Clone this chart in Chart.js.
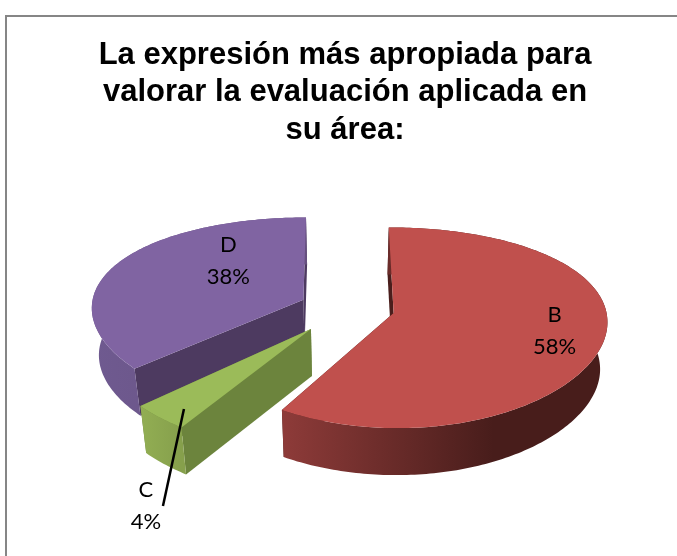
<!DOCTYPE html>
<html><head><meta charset="utf-8">
<style>html,body{margin:0;padding:0;background:#fff}canvas{display:block}</style>
<script src="https://cdn.jsdelivr.net/npm/chart.js@4/dist/chart.umd.min.js"></script>
</head><body><canvas id="c" width="677" height="556"></canvas>
<script>
const categories = ['B', 'C', 'D'];
const shares = [58, 4, 38];
const titleLines = ['La expresión más apropiada para', 'valorar la evaluación aplicada en', 'su área:'];

const topColors = ['#C0504D', '#9BBB59', '#8064A2'];
const cutColors = ['#4A1E1C', '#6C843D', '#4D3A60'];
const rimLeft = ['#8E3B39', '#92AE53', '#6F5A90'];
const rimRight = ['#481D1B', '#86A04C', '#66507F'];
const explode = [50, 57, 45];
const twistDeg = [[-0.5, 1.5], [4.5, 4.5], [5.5, 0]];
const labelDelta = [[161, 18], [-165, 177], [-75, -39]];
const leaderDelta = [[-127, 80], [-148, 177]];

const VIEW = { squash: 0.455, distance: 1450, depth: 47, lowerScale: 0.972, widen: 0.5 };
const DEG = Math.PI / 180;

function project(el, theta, r, lower) {
  const off = el.options.offset || 0;
  const mid = (el.startAngle + el.endAngle) / 2;
  const u = off * Math.cos(mid) + r * Math.cos(theta);
  const v = off * Math.sin(mid) + r * Math.sin(theta);
  const s = VIEW.distance / (VIEW.distance - v);
  let X = u * (1 + (s - 1) * VIEW.widen), Y = v * VIEW.squash * s;
  if (lower) { X *= VIEW.lowerScale; Y += VIEW.depth; }
  return [el.x + X, el.y + Y];
}
function poly(ctx, pts, fill) {
  ctx.beginPath();
  pts.forEach((p, i) => i ? ctx.lineTo(p[0], p[1]) : ctx.moveTo(p[0], p[1]));
  ctx.closePath();
  ctx.fillStyle = fill;
  ctx.fill();
}
class Arc3D extends Chart.ArcElement {
  static id = 'arc3d';
  draw(ctx) {
    const i = this.sliceIndex, R = this.outerRadius;
    const a0 = this.startAngle + twistDeg[i][0] * DEG;
    const a1 = this.endAngle + twistDeg[i][1] * DEG;
    const steps = Math.max(4, Math.ceil((a1 - a0) / DEG));
    const top = [], low = [];
    for (let k = 0; k <= steps; k++) {
      const t = a0 + (a1 - a0) * k / steps;
      top.push(project(this, t, R, false));
      low.push(project(this, t, R, true));
    }
    const tipT = project(this, 0, 0, false), tipL = project(this, 0, 0, true);
    poly(ctx, [tipT, top[steps], low[steps], tipL], cutColors[i]);
    poly(ctx, [tipT, top[0], low[0], tipL], cutColors[i]);
    const xs = top.map(p => p[0]);
    const g = ctx.createLinearGradient(Math.min(...xs), 0, Math.max(...xs), 0);
    g.addColorStop(0, rimLeft[i]);
    g.addColorStop(i === 0 ? 0.65 : 1, rimRight[i]);
    g.addColorStop(1, rimRight[i]);
    poly(ctx, top.concat(low.slice().reverse()), g);
    poly(ctx, [tipT].concat(top), this.options.backgroundColor);
  }
}
class Pie3D extends Chart.PieController {
  static id = 'pie3d';
  static defaults = { dataElementType: 'arc3d' };
  draw() {
    const ctx = this.chart.ctx, arcs = this.getMeta().data;
    arcs.forEach((a, i) => { a.sliceIndex = i; });
    arcs.slice().reverse().forEach(a => a.draw(ctx, this.chart.chartArea));
  }
}
Chart.register(Arc3D, Pie3D);

const framePlugin = {
  id: 'frame',
  beforeDraw(chart) {
    const ctx = chart.ctx;
    ctx.save();
    ctx.fillStyle = '#fff';
    ctx.fillRect(0, 0, chart.width, chart.height);
    ctx.strokeStyle = '#868686';
    ctx.lineWidth = 2;
    ctx.beginPath();
    ctx.moveTo(6, chart.height);
    ctx.lineTo(6, 16);
    ctx.lineTo(chart.width, 16);
    ctx.stroke();
    ctx.restore();
  }
};
const labelPlugin = {
  id: 'sliceLabels',
  afterDatasetsDraw(chart) {
    const ctx = chart.ctx, arcs = chart.getDatasetMeta(0).data;
    const total = shares.reduce((a, b) => a + b, 0);
    ctx.save();
    ctx.textAlign = 'center';
    ctx.textBaseline = 'middle';
    ctx.fillStyle = '#000';
    ctx.font = '22px Lato';
    arcs.forEach((el, i) => {
      const tip = project(el, 0, 0, false);
      const x = tip[0] + labelDelta[i][0], y = tip[1] + labelDelta[i][1];
      ctx.fillText(categories[i], x, y - 16);
      ctx.fillText(Math.round(shares[i] / total * 100) + '%', x, y + 16);
      if (categories[i] === 'C') {
        ctx.strokeStyle = '#000';
        ctx.lineWidth = 2.5;
        ctx.beginPath();
        ctx.moveTo(tip[0] + leaderDelta[0][0], tip[1] + leaderDelta[0][1]);
        ctx.lineTo(tip[0] + leaderDelta[1][0], tip[1] + leaderDelta[1][1]);
        ctx.stroke();
      }
    });
    ctx.restore();
  }
};
new Chart(document.getElementById('c'), {
  type: 'pie3d',
  data: {
    labels: categories,
    datasets: [{
      data: shares,
      backgroundColor: topColors,
      offset: explode,
      borderWidth: 0,
      radius: 212,
      clip: false
    }]
  },
  options: {
    responsive: false,
    animation: false,
    layout: { padding: { top: 37, left: 13, right: 0, bottom: 90 } },
    plugins: {
      legend: { display: false },
      tooltip: { enabled: false },
      title: {
        display: true,
        text: titleLines,
        color: '#000',
        font: { family: '"Liberation Sans"', size: 31, weight: 'bold', lineHeight: 1.2 },
        padding: 0
      }
    }
  },
  plugins: [framePlugin, labelPlugin]
});
</script></body></html>
